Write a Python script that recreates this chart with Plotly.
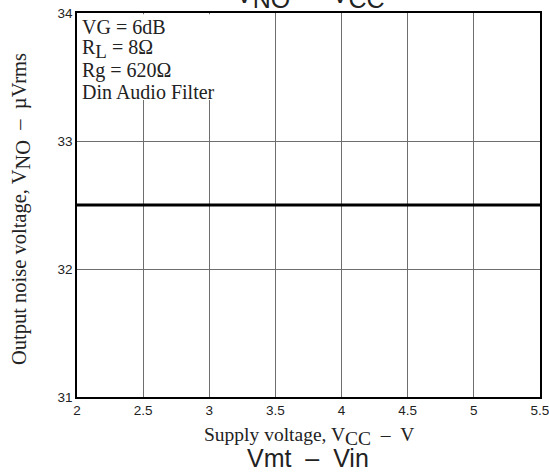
import plotly.graph_objects as go

supply_v = [2, 5.5]
noise_uv = [32.5, 32.5]
x_ticks = [2, 2.5, 3, 3.5, 4, 4.5, 5, 5.5]
x_tick_labels = ["2", "2.5", "3", "3.5", "4", "4.5", "5", "5.5"]
y_ticks = [31, 32, 33, 34]
y_tick_labels = ["31", "32", "33", "34"]

serif = "Liberation Serif, Times New Roman, serif"
sans = "Liberation Sans, Arial, sans-serif"
NB = "\u00a0"
DASH = NB * 2 + "–" + NB * 2


def sub(txt, size):
    return f"<sub><span style='font-size:{size}px'>{txt}</span></sub>"


conditions = ["VG = 6dB", "R" + sub("L", 19) + " = 8Ω", "Rg = 620Ω", "Din Audio Filter"]
cond_y = [27, 48.5, 70, 92]  # pixel centres of each line

# plot area in pixels
L, R, T, B = 77, 540, 13, 397
W, H = 549, 472

fig = go.Figure()
fig.add_trace(go.Scatter(x=supply_v, y=noise_uv, mode="lines",
                         line=dict(color="black", width=3), showlegend=False,
                         hoverinfo="skip"))

fig.update_layout(
    width=W, height=H,
    margin=dict(l=L, r=W - R, t=T, b=H - B),
    paper_bgcolor="white", plot_bgcolor="white",
    xaxis=dict(range=[2, 5.5], tickvals=x_ticks, ticktext=x_tick_labels,
               showgrid=True, gridcolor="#6e6e6e", gridwidth=1,
               showline=True, linecolor="black", linewidth=1.5, mirror=True,
               ticks="", zeroline=False, automargin=False,
               ticklabeloverflow="allow",
               tickfont=dict(family=sans, size=13.5, color="#222")),
    yaxis=dict(range=[31, 34], tickvals=y_ticks, ticktext=y_tick_labels,
               showgrid=True, gridcolor="#6e6e6e", gridwidth=1,
               showline=True, linecolor="black", linewidth=1.5, mirror=True,
               ticks="", zeroline=False, automargin=False,
               ticklabeloverflow="allow",
               tickfont=dict(family=sans, size=13.5, color="#222")),
)

# white panel behind the conditions text (covers gridlines)
fig.add_shape(type="rect", xref="x", yref="y", x0=2.01, x1=3.2, y0=33.32, y1=33.99,
              fillcolor="white", line=dict(width=0), layer="between")


def ann(text, X, Y, font, xanchor="center", yanchor="middle", angle=0):
    fig.add_annotation(text=text, xref="paper", yref="paper", x=0, y=0,
                       xshift=X - L, yshift=B - Y, xanchor=xanchor, yanchor=yanchor,
                       textangle=angle, showarrow=False, align="left", font=font)


for line, cy in zip(conditions, cond_y):
    ann(line, 80, cy, dict(family=serif, size=20, color="#222"), xanchor="left")

# x-axis title
ann("Supply voltage, V" + sub("CC", 19.5) + DASH + "V", 309, 436,
    dict(family=serif, size=19.5, color="#222"))
# y-axis title
ann("Output noise voltage, V" + sub("NO", 20.5) + DASH + "µVrms", 21, 209,
    dict(family=serif, size=20.5, color="#222"), angle=-90)

# cut-off chart title at the very top
ann("V" + sub("NO", 25) + DASH + "V" + sub("CC", 25), 310, -4,
    dict(family=sans, size=25, color="#222"))

# lower caption
ann("Vmt" + DASH + "Vin", 308, 458, dict(family=sans, size=25, color="#222"))

# cut-off number at bottom-left
ann("100", 61, 478, dict(family=sans, size=12, color="#222"))

fig.write_html("out.html", config={"displayModeBar": False},
               post_script="document.body.style.margin='0';")
